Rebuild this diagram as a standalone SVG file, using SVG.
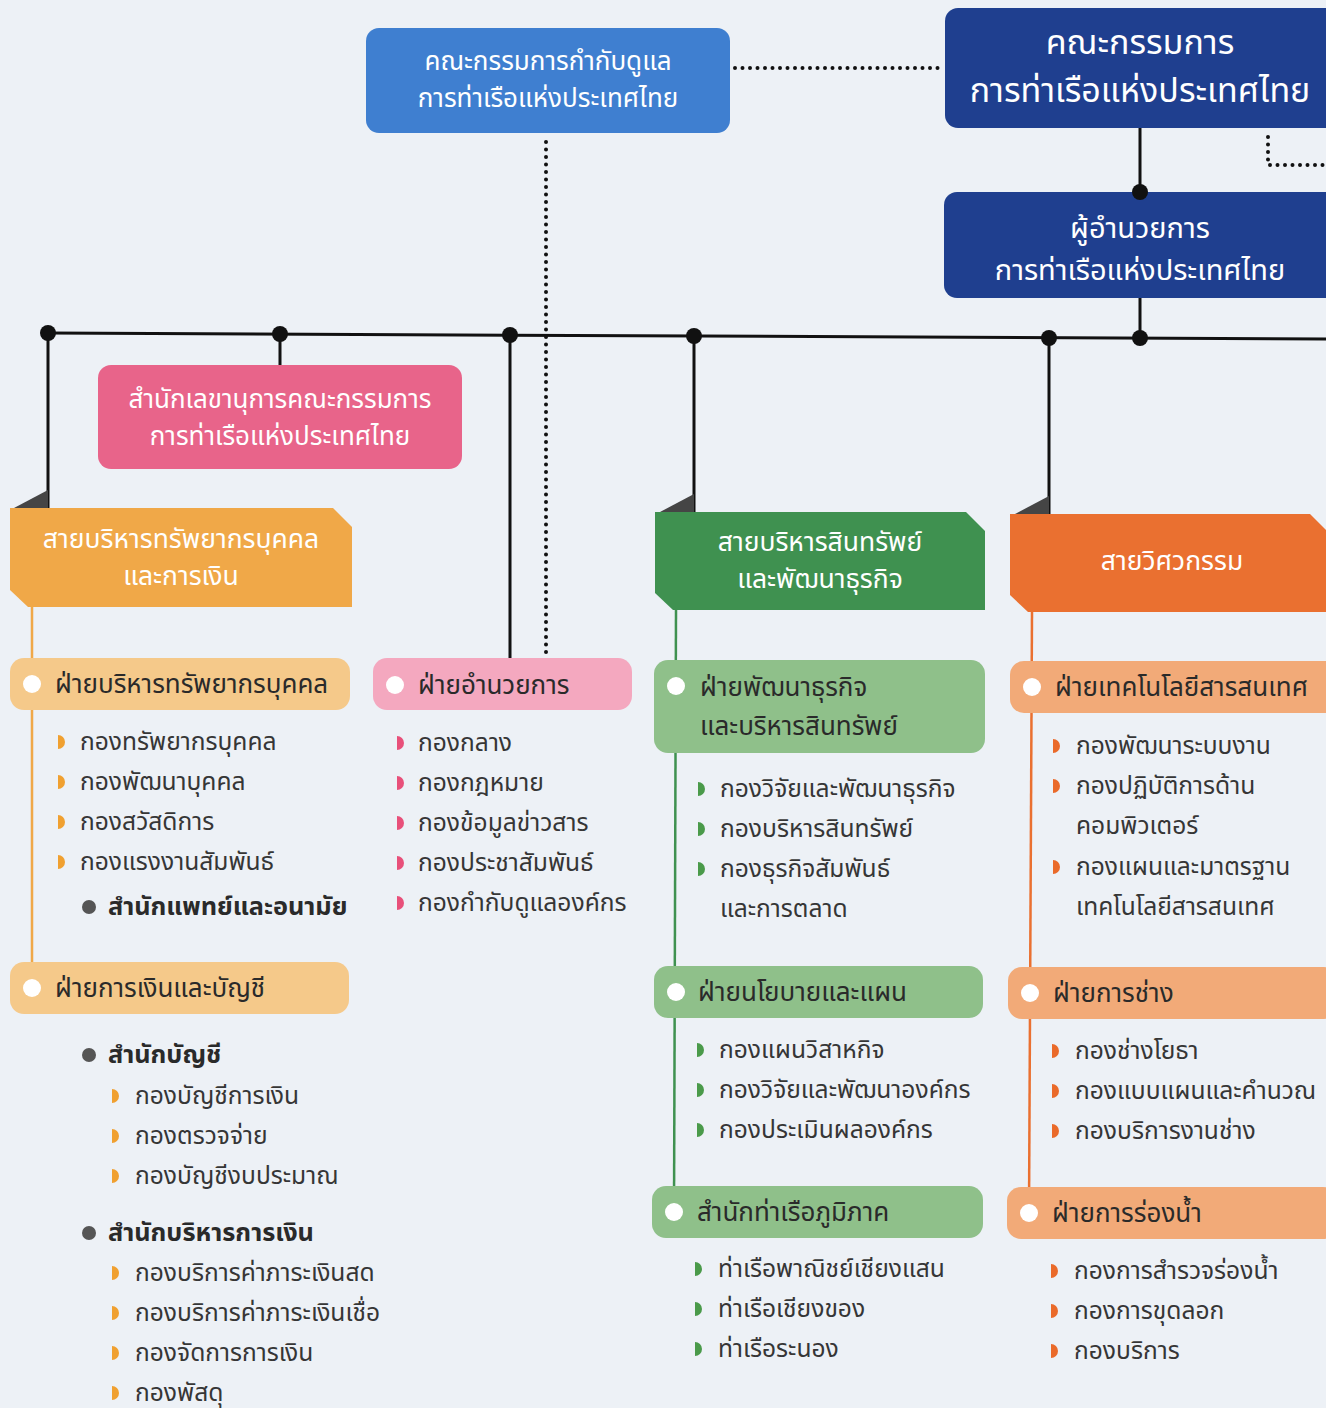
<svg xmlns="http://www.w3.org/2000/svg" width="1326" height="1408" viewBox="0 0 1326 1408">
<defs>
<style>
text{font-family:"Noto Sans","Noto Sans Thai","DejaVu Sans",sans-serif}
.bg{fill:#edf1f6}
.w{fill:#ffffff;text-anchor:middle}
.hd{fill:#2a2a2a;font-size:26px}
.it{fill:#363636;font-size:24.6px}
.b{fill:#2a2a2a;font-size:25.3px;font-weight:bold}
.ln{stroke:#111;stroke-width:3;fill:none}
.dot{fill:#111}
.dt{stroke:#111;stroke-width:4;stroke-linecap:round;stroke-dasharray:0 7.5;fill:none}
.tri{fill:#454545}
.pc{fill:#ffffff}
.gd{fill:#555}
</style>
<path id="bu" d="M0,-7 A7,7 0 0 1 0,7 Z"/>
</defs>
<rect class="bg" x="0" y="0" width="1326" height="1408"/>

<g id="supervisory-committee">
<rect x="366" y="28" width="364" height="105" rx="13" fill="#3f7fd0"/>
<text class="w" x="548" y="70" font-size="26">คณะกรรมการกำกับดูแล</text>
<text class="w" x="548" y="107" font-size="26">การท่าเรือแห่งประเทศไทย</text>
</g>

<g id="board">
<rect x="945" y="8" width="400" height="120" rx="13" fill="#1f3f8f"/>
<text class="w" x="1140" y="54" font-size="34">คณะกรรมการ</text>
<text class="w" x="1140" y="102" font-size="34">การท่าเรือแห่งประเทศไทย</text>
</g>

<g id="director">
<rect x="944" y="192" width="400" height="106" rx="13" fill="#1f3f8f"/>
<text class="w" x="1140" y="238" font-size="29">ผู้อำนวยการ</text>
<text class="w" x="1140" y="280" font-size="29">การท่าเรือแห่งประเทศไทย</text>
</g>

<g id="connectors">
<line class="dt" x1="735" y1="68" x2="942" y2="68"/>
<path class="dt" d="M1268,137 L1268,165 L1326,165"/>
<line class="dt" x1="546" y1="142" x2="546" y2="655"/>
<line class="ln" x1="1140" y1="128" x2="1140" y2="192"/>
<circle class="dot" cx="1140" cy="192" r="8"/>
<line class="ln" x1="1140" y1="298" x2="1140" y2="338"/>
<line class="ln" x1="48" y1="333" x2="1326" y2="339"/>
<line class="ln" x1="48" y1="333" x2="48" y2="508"/>
<line class="ln" x1="280" y1="334" x2="280" y2="365"/>
<line class="ln" x1="510" y1="335" x2="510" y2="658"/>
<line class="ln" x1="694" y1="336" x2="694" y2="512"/>
<line class="ln" x1="1049" y1="338" x2="1049" y2="514"/>
<circle class="dot" cx="48" cy="333" r="8"/>
<circle class="dot" cx="280" cy="334" r="8"/>
<circle class="dot" cx="510" cy="335" r="8"/>
<circle class="dot" cx="694" cy="336" r="8"/>
<circle class="dot" cx="1049" cy="338" r="8"/>
<circle class="dot" cx="1140" cy="338" r="8"/>
<line x1="32" y1="607" x2="32" y2="988" stroke="#f0a848" stroke-width="2.5"/>
<line x1="676" y1="610" x2="674" y2="1212" stroke="#3f9150" stroke-width="2.5"/>
<line x1="1032" y1="612" x2="1029" y2="1213" stroke="#ea7030" stroke-width="2.5"/>
</g>

<g id="secretariat">
<rect x="98" y="365" width="364" height="104" rx="13" fill="#e8648a"/>
<text class="w" x="280" y="408" font-size="26">สำนักเลขานุการคณะกรรมการ</text>
<text class="w" x="280" y="445" font-size="26">การท่าเรือแห่งประเทศไทย</text>
</g>

<g id="line-hr-finance">
<path class="tri" d="M14,508 L48,490 L48,508 Z"/>
<path d="M10,508 L333,508 L352,527 L352,607 L28,607 L10,590 Z" fill="#f0a848"/>
<text class="w" x="181" y="548" font-size="26.5">สายบริหารทรัพยากรบุคคล</text>
<text class="w" x="181" y="585" font-size="26.5">และการเงิน</text>
</g>

<g id="line-asset">
<path class="tri" d="M660,512 L694,494 L694,512 Z"/>
<path d="M655,512 L966,512 L985,531 L985,610 L673,610 L655,593 Z" fill="#3f9150"/>
<text class="w" x="820" y="551" font-size="26.5">สายบริหารสินทรัพย์</text>
<text class="w" x="820" y="588" font-size="26.5">และพัฒนาธุรกิจ</text>
</g>

<g id="line-engineering">
<path class="tri" d="M1015,514 L1049,496 L1049,514 Z"/>
<path d="M1010,514 L1310,514 L1330,534 L1330,612 L1028,612 L1010,595 Z" fill="#ea7030"/>
<text class="w" x="1172" y="570" font-size="26.5">สายวิศวกรรม</text>
</g>

<g id="dept-hr">
<rect x="10" y="658" width="340" height="52" rx="14" fill="#f5c98a"/>
<circle class="pc" cx="32" cy="684" r="9"/>
<text class="hd" x="55" y="693">ฝ่ายบริหารทรัพยากรบุคคล</text>
<g fill="#f0a030">
<use href="#bu" x="58" y="742"/><use href="#bu" x="58" y="782"/><use href="#bu" x="58" y="822"/><use href="#bu" x="58" y="862"/>
</g>
<text class="it" x="80" y="750">กองทรัพยากรบุคคล</text>
<text class="it" x="80" y="790">กองพัฒนาบุคคล</text>
<text class="it" x="80" y="830">กองสวัสดิการ</text>
<text class="it" x="80" y="870">กองแรงงานสัมพันธ์</text>
<circle class="gd" cx="89" cy="907" r="7"/>
<text class="b" x="108" y="915">สำนักแพทย์และอนามัย</text>
</g>

<g id="dept-finance">
<rect x="10" y="962" width="339" height="52" rx="14" fill="#f5c98a"/>
<circle class="pc" cx="32" cy="988" r="9"/>
<text class="hd" x="55" y="997">ฝ่ายการเงินและบัญชี</text>
<circle class="gd" cx="89" cy="1055" r="7"/>
<text class="b" x="108" y="1063">สำนักบัญชี</text>
<g fill="#f0a030">
<use href="#bu" x="112" y="1096"/><use href="#bu" x="112" y="1136"/><use href="#bu" x="112" y="1176"/>
<use href="#bu" x="112" y="1273"/><use href="#bu" x="112" y="1313"/><use href="#bu" x="112" y="1353"/><use href="#bu" x="112" y="1393"/>
</g>
<text class="it" x="135" y="1104">กองบัญชีการเงิน</text>
<text class="it" x="135" y="1144">กองตรวจจ่าย</text>
<text class="it" x="135" y="1184">กองบัญชีงบประมาณ</text>
<circle class="gd" cx="89" cy="1233" r="7"/>
<text class="b" x="108" y="1241">สำนักบริหารการเงิน</text>
<text class="it" x="135" y="1281">กองบริการค่าภาระเงินสด</text>
<text class="it" x="135" y="1321">กองบริการค่าภาระเงินเชื่อ</text>
<text class="it" x="135" y="1361">กองจัดการการเงิน</text>
<text class="it" x="135" y="1401">กองพัสดุ</text>
</g>

<g id="dept-admin">
<rect x="373" y="658" width="259" height="52" rx="14" fill="#f4a8bf"/>
<circle class="pc" cx="395" cy="685" r="9"/>
<text class="hd" x="418" y="694">ฝ่ายอำนวยการ</text>
<g fill="#e8507a">
<use href="#bu" x="397" y="743"/><use href="#bu" x="397" y="783"/><use href="#bu" x="397" y="823"/><use href="#bu" x="397" y="863"/><use href="#bu" x="397" y="903"/>
</g>
<text class="it" x="418" y="751">กองกลาง</text>
<text class="it" x="418" y="791">กองกฎหมาย</text>
<text class="it" x="418" y="831">กองข้อมูลข่าวสาร</text>
<text class="it" x="418" y="871">กองประชาสัมพันธ์</text>
<text class="it" x="418" y="911">กองกำกับดูแลองค์กร</text>
</g>

<g id="dept-business">
<rect x="654" y="660" width="331" height="93" rx="14" fill="#8fc08a"/>
<circle class="pc" cx="676" cy="686" r="9"/>
<text class="hd" x="700" y="696">ฝ่ายพัฒนาธุรกิจ</text>
<text class="hd" x="700" y="735">และบริหารสินทรัพย์</text>
<g fill="#4a9a4a">
<use href="#bu" x="698" y="789"/><use href="#bu" x="698" y="829"/><use href="#bu" x="698" y="869"/>
</g>
<text class="it" x="720" y="797">กองวิจัยและพัฒนาธุรกิจ</text>
<text class="it" x="720" y="837">กองบริหารสินทรัพย์</text>
<text class="it" x="720" y="877">กองธุรกิจสัมพันธ์</text>
<text class="it" x="720" y="917">และการตลาด</text>
</g>

<g id="dept-policy">
<rect x="654" y="966" width="329" height="52" rx="14" fill="#8fc08a"/>
<circle class="pc" cx="676" cy="992" r="9"/>
<text class="hd" x="698" y="1001">ฝ่ายนโยบายและแผน</text>
<g fill="#4a9a4a">
<use href="#bu" x="697" y="1050"/><use href="#bu" x="697" y="1090"/><use href="#bu" x="697" y="1130"/>
</g>
<text class="it" x="719" y="1058">กองแผนวิสาหกิจ</text>
<text class="it" x="719" y="1098">กองวิจัยและพัฒนาองค์กร</text>
<text class="it" x="719" y="1138">กองประเมินผลองค์กร</text>
</g>

<g id="dept-regional-ports">
<rect x="652" y="1186" width="331" height="52" rx="14" fill="#8fc08a"/>
<circle class="pc" cx="674" cy="1212" r="9"/>
<text class="hd" x="697" y="1221">สำนักท่าเรือภูมิภาค</text>
<g fill="#4a9a4a">
<use href="#bu" x="695" y="1269"/><use href="#bu" x="695" y="1309"/><use href="#bu" x="695" y="1349"/>
</g>
<text class="it" x="718" y="1277">ท่าเรือพาณิชย์เชียงแสน</text>
<text class="it" x="718" y="1317">ท่าเรือเชียงของ</text>
<text class="it" x="718" y="1357">ท่าเรือระนอง</text>
</g>

<g id="dept-it">
<rect x="1010" y="661" width="330" height="52" rx="14" fill="#f2aa78"/>
<circle class="pc" cx="1032" cy="687" r="9"/>
<text class="hd" x="1055" y="696">ฝ่ายเทคโนโลยีสารสนเทศ</text>
<g fill="#ea6a2a">
<use href="#bu" x="1053" y="746"/><use href="#bu" x="1053" y="786"/><use href="#bu" x="1053" y="867"/>
</g>
<text class="it" x="1076" y="754">กองพัฒนาระบบงาน</text>
<text class="it" x="1076" y="794">กองปฏิบัติการด้าน</text>
<text class="it" x="1076" y="834">คอมพิวเตอร์</text>
<text class="it" x="1076" y="875">กองแผนและมาตรฐาน</text>
<text class="it" x="1076" y="915">เทคโนโลยีสารสนเทศ</text>
</g>

<g id="dept-engineering">
<rect x="1008" y="967" width="330" height="52" rx="14" fill="#f2aa78"/>
<circle class="pc" cx="1030" cy="993" r="9"/>
<text class="hd" x="1053" y="1002">ฝ่ายการช่าง</text>
<g fill="#ea6a2a">
<use href="#bu" x="1052" y="1051"/><use href="#bu" x="1052" y="1091"/><use href="#bu" x="1052" y="1131"/>
</g>
<text class="it" x="1075" y="1059">กองช่างโยธา</text>
<text class="it" x="1075" y="1099">กองแบบแผนและคำนวณ</text>
<text class="it" x="1075" y="1139">กองบริการงานช่าง</text>
</g>

<g id="dept-channel">
<rect x="1007" y="1187" width="330" height="52" rx="14" fill="#f2aa78"/>
<circle class="pc" cx="1029" cy="1213" r="9"/>
<text class="hd" x="1052" y="1222">ฝ่ายการร่องน้ำ</text>
<g fill="#ea6a2a">
<use href="#bu" x="1051" y="1271"/><use href="#bu" x="1051" y="1311"/><use href="#bu" x="1051" y="1351"/>
</g>
<text class="it" x="1074" y="1279">กองการสำรวจร่องน้ำ</text>
<text class="it" x="1074" y="1319">กองการขุดลอก</text>
<text class="it" x="1074" y="1359">กองบริการ</text>
</g>
</svg>
